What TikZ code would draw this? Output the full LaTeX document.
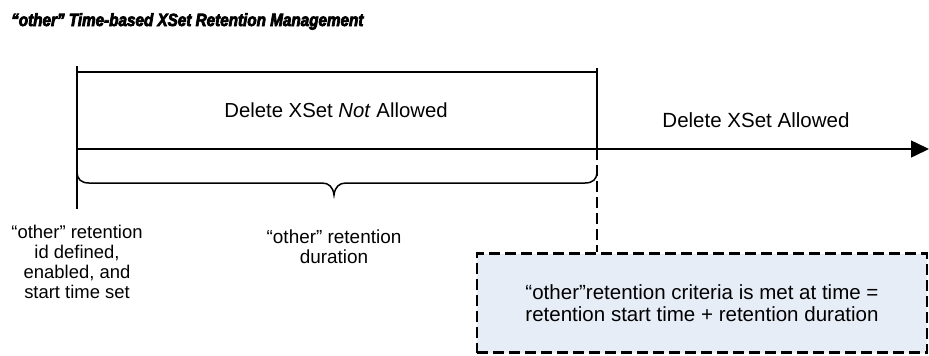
\documentclass[tikz,border=0pt]{standalone}
\usepackage{fontspec}
\setmainfont{Liberation Sans}
\newfontfamily\titlefont{Liberation Sans Bold Italic}[FakeBold=4,FakeStretch=0.86]
\usetikzlibrary{arrows.meta}
\definecolor{boxfill}{RGB}{231,237,247}
\begin{document}
\begin{tikzpicture}[x=1bp,y=-1bp,
  thickline/.style={line width=2bp, line cap=rect},
  mainline/.style={line width=1.5bp, -{Triangle[length=18bp,width=17bp]}},
  braceline/.style={line width=1.5bp},
  dashline/.style={line width=2.5bp, dash pattern=on 11bp off 5bp},
  lbl/.style={inner sep=0pt, align=center},
  critbox/.style={draw, line width=2.5bp, dash pattern=on 11bp off 5bp, fill=boxfill,
    minimum width=450bp, minimum height=99bp, inner sep=0pt, align=center,
    font=\fontsize{20.6}{22}\selectfont}]
\useasboundingbox (0,0) rectangle (929,355);

% title
\node[anchor=base west, inner sep=0pt, font=\titlefont\fontsize{17.8}{20}\selectfont] (title) at (11,26)
  {“other” Time-based XSet Retention Management};

% coordinates
\coordinate (ltop) at (77,67);
\coordinate (lbot) at (77,208);
\coordinate (ttl) at (77,71.5);
\coordinate (ttr) at (597,71.5);
\coordinate (rtop) at (597,69);
\coordinate (ms) at (77,149);
\coordinate (mr) at (597,149);
\coordinate (me) at (929,149);

% criteria box
\node[critbox] (box) at (702,303)
  {“other”retention criteria is met at time =\\retention start time + retention duration};

% lines
\draw[dashline] (mr) -- (mr |- box.north);
\draw[thickline] (ltop) -- (lbot);
\draw[thickline] (ttl) -- (ttr);
\draw[thickline] (rtop) -- (mr);
\draw[mainline] (ms) -- (me);

% brace
\coordinate (bl) at (77,165);
\coordinate (br) at (597,165);
\coordinate (btip) at (334,195);
\draw[braceline] (bl) -- (77,172) .. controls (77,179) and (81,183) .. (89,183)
  -- (322,183) .. controls (329,183) and (333,187) .. (btip)
  .. controls (335,187) and (339,183) .. (346,183)
  -- (585,183) .. controls (593,183) and (597,179) .. (597,172) -- (br);

% labels
\node[lbl, anchor=base, font=\fontsize{20.4}{24}\selectfont] (notallowed) at (336,117)
  {Delete XSet \textit{Not} Allowed};
\node[lbl, anchor=base, font=\fontsize{20.6}{24}\selectfont] (allowed) at (756,127)
  {Delete XSet Allowed};
\node[lbl, font=\fontsize{18.5}{20}\selectfont] (startlbl) at (77,262)
  {“other” retention\\id defined,\\enabled, and\\start time set};
\node[lbl, font=\fontsize{19}{20.5}\selectfont] (durlbl) at (334,247)
  {“other” retention\\duration};
\end{tikzpicture}
\end{document}
